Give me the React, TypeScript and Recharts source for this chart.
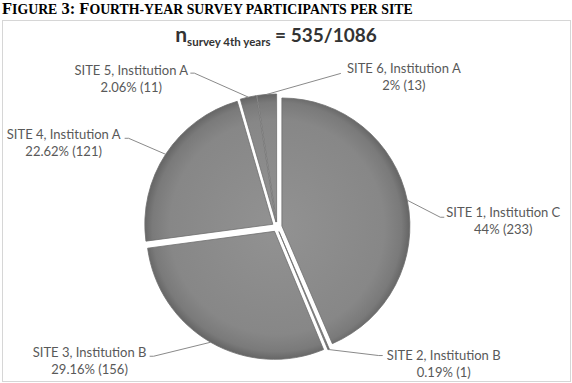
import React from "react";
import { PieChart, Pie, Cell, Sector } from "recharts";

// Fourth-year survey participants per site
const sites = [
  "SITE 1, Institution C",
  "SITE 2, Institution B",
  "SITE 3, Institution B",
  "SITE 4, Institution A",
  "SITE 5, Institution A",
  "SITE 6, Institution A",
];
const participants = [233, 1, 156, 121, 11, 13];
const percentLabels = ["44%", "0.19%", "29.16%", "22.62%", "2.06%", "2%"];

const data = sites.map((name, i) => ({
  name,
  value: participants[i],
  pct: percentLabels[i],
}));

// title pieces: [text, isSmallCap]
const titleParts: [string, boolean][] = [
  ["F", false],
  ["IGURE", true],
  [" 3: F", false],
  ["OURTH-YEAR SURVEY PARTICIPANTS PER SITE", true],
];

// label placement relative to the slice edge point (lx/ly = text centre, ex/ey = leader end)
const labelLayout = [
  { lx: 96, ly: 13, ex: 37, ey: 17, side: 1 },
  { lx: 115, ly: 6, ex: 54, ey: 6, side: 1 },
  { lx: -121, ly: 11, ex: -61, ey: 14, side: -1 },
  { lx: -102, ly: -19, ex: -41, ey: -16, side: -1 },
  { lx: -117, ly: -26, ex: -58, ey: -24, side: -1 },
  { lx: 137, ly: -25, ex: 74, ey: -21, side: 0 },
];

const RAD = Math.PI / 180;
const EXPLODE = 5;

const ExplodedSlice = (props: any) => {
  const { cx, cy, midAngle } = props;
  const dx = Math.cos(-midAngle * RAD) * EXPLODE;
  const dy = Math.sin(-midAngle * RAD) * EXPLODE;
  return <Sector {...props} cx={cx + dx} cy={cy + dy} />;
};

const renderLabel = (props: any) => {
  const { cx, cy, midAngle, outerRadius, index } = props;
  const r = outerRadius + EXPLODE;
  const ax = cx + Math.cos(-midAngle * RAD) * r;
  const ay = cy + Math.sin(-midAngle * RAD) * r;
  const l = labelLayout[index];
  const ex = ax + l.ex;
  const ey = ay + l.ey;
  const pts =
    l.side === 0
      ? `${ax},${ay} ${ex},${ey}`
      : `${ax},${ay} ${ex - l.side * 4},${ey} ${ex},${ey}`;
  const d = data[index];
  return (
    <g key={`lbl-${index}`}>
      <polyline points={pts} fill="none" stroke="#8a8a8a" strokeWidth={1} />
      <text
        x={ax + l.lx}
        y={ay + l.ly + 4}
        textAnchor="middle"
        fontFamily="Lato, sans-serif"
        fontSize={13}
        fill="#595959"
      >
        <tspan x={ax + l.lx}>{d.name}</tspan>
        <tspan x={ax + l.lx} dy={17}>
          {`${d.pct} (${d.value})`}
        </tspan>
      </text>
    </g>
  );
};

export default function App() {
  return (
    <div
      style={{
        position: "absolute",
        left: 0,
        top: 0,
        width: 572,
        height: 383,
        background: "#fff",
      }}
    >
      <div
        style={{
          position: "absolute",
          left: 2,
          top: 20,
          width: 567,
          height: 360,
          border: "1px solid #d6d6d6",
        }}
      />
      <div style={{ position: "absolute", left: 0, top: 0 }}>
        <PieChart
          width={572}
          height={383}
          margin={{ top: 0, right: 0, bottom: 0, left: 0 }}
        >
          <defs>
            <radialGradient
              id="sliceFill"
              gradientUnits="userSpaceOnUse"
              cx={277}
              cy={227}
              r={134}
            >
              <stop offset="0%" stopColor="#929292" />
              <stop offset="80%" stopColor="#878787" />
              <stop offset="93%" stopColor="#7a7a7a" />
              <stop offset="100%" stopColor="#626262" />
            </radialGradient>
          </defs>
          <Pie
            data={data}
            dataKey="value"
            nameKey="name"
            cx={277}
            cy={227}
            outerRadius={128}
            startAngle={90}
            endAngle={-270}
            stroke="#6e6e6e"
            strokeWidth={0.8}
            shape={ExplodedSlice}
            label={renderLabel}
            labelLine={false}
            isAnimationActive={false}
          >
            {data.map((d) => (
              <Cell key={d.name} fill="url(#sliceFill)" />
            ))}
          </Pie>
        </PieChart>
      </div>
      <svg
        width={572}
        height={383}
        style={{ position: "absolute", left: 0, top: 0, pointerEvents: "none" }}
      >
        <text
          x={2}
          y={14}
          fontFamily="'Liberation Serif', serif"
          fontWeight="bold"
          fill="#000"
        >
          {titleParts.map(([t, small], i) => (
            <tspan key={i} fontSize={small ? 13.8 : 16.5} style={{ whiteSpace: "pre" }}>
              {t}
            </tspan>
          ))}
        </text>
        <text
          x={276}
          y={42}
          textAnchor="middle"
          fontFamily="Lato, sans-serif"
          fontWeight="bold"
          fill="#333"
        >
          <tspan fontSize={21}>n</tspan>
          <tspan fontSize={11.5} dy={4}>
            survey 4th years
          </tspan>
          <tspan fontSize={19} dy={-4}>
            {" = 535/1086"}
          </tspan>
        </text>
      </svg>
    </div>
  );
}
